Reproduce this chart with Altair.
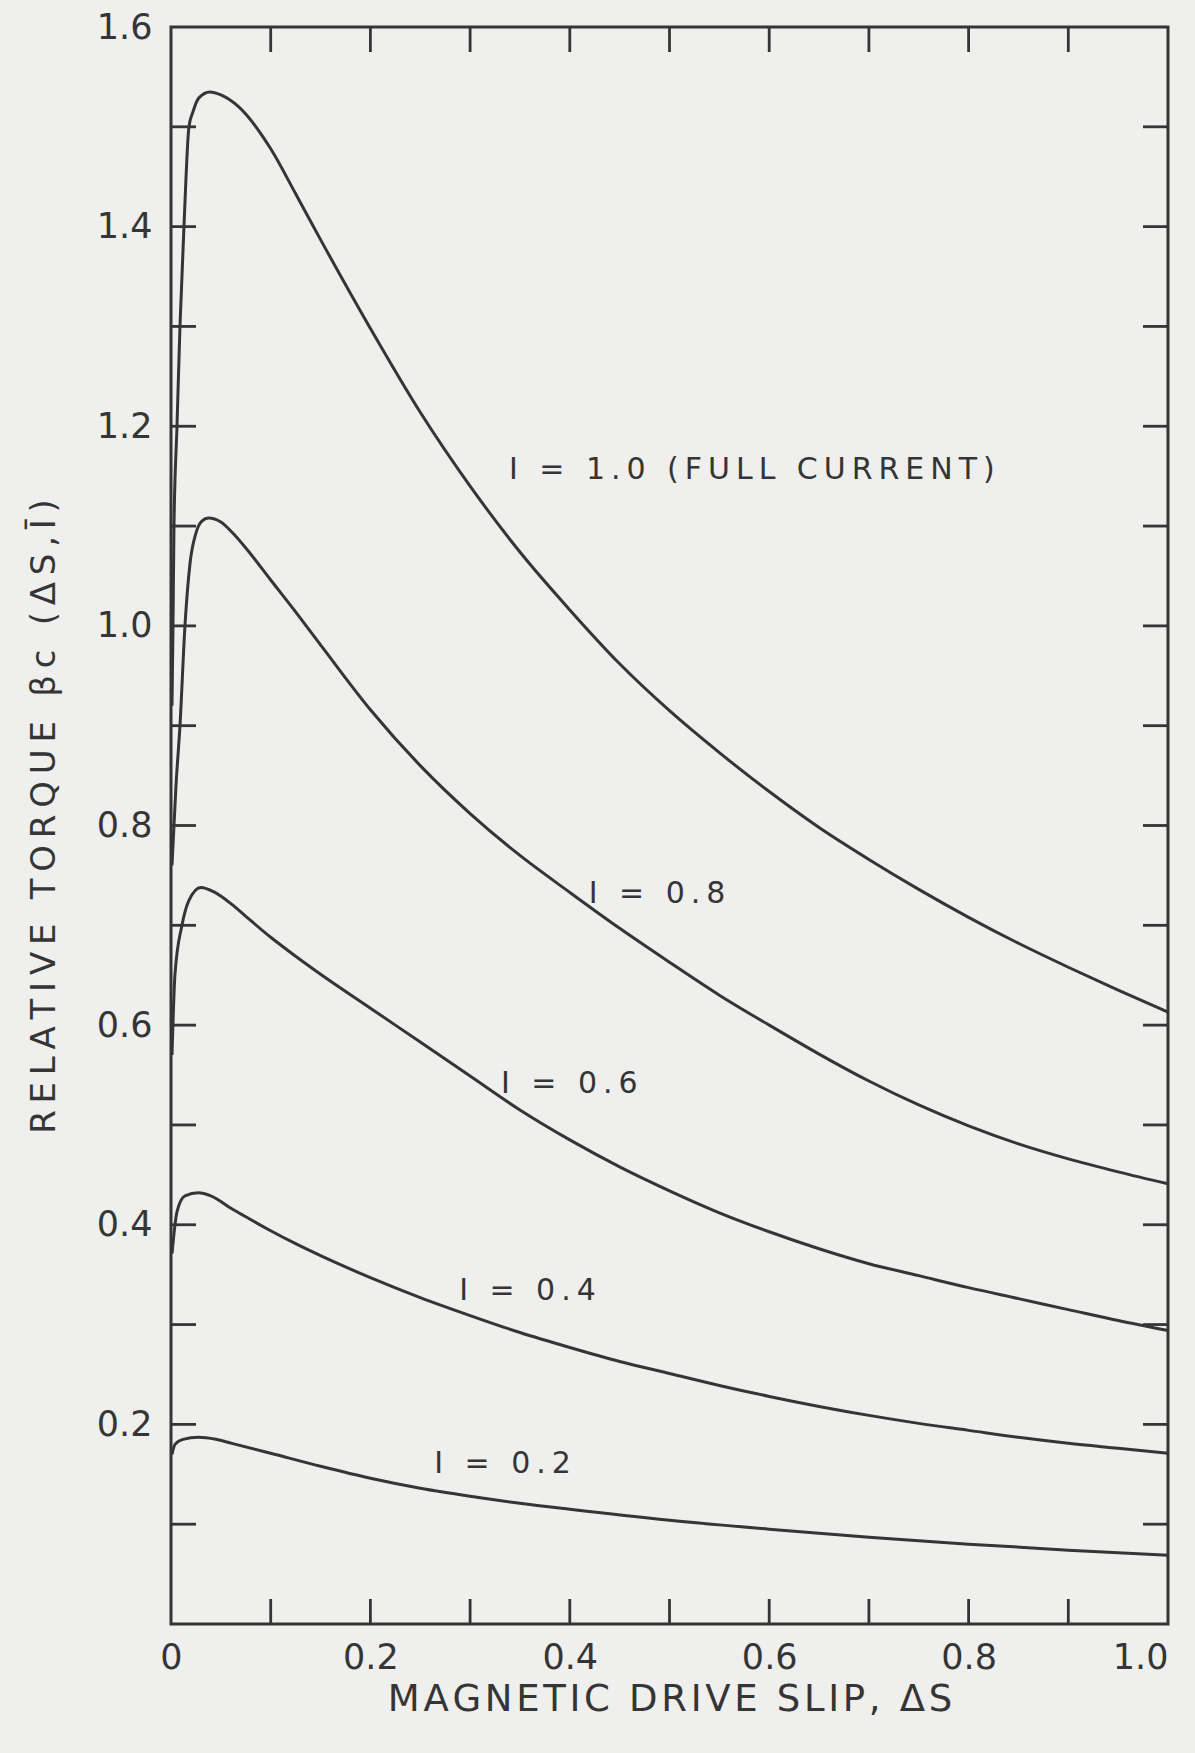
import altair as alt
import pandas as pd

# Relative torque curves of a magnetic (eddy-current) drive vs. slip, one per field current
slip_10 = [0.001, 0.002, 0.003, 0.006, 0.009, 0.013, 0.018, 0.022, 0.028, 0.039, 0.05, 0.068,
           0.1, 0.125, 0.15, 0.2, 0.25, 0.3, 0.35, 0.4, 0.45, 0.5, 0.55, 0.6, 0.65, 0.7,
           0.75, 0.8, 0.85, 0.9, 0.95, 1.0]
torque_10 = [0.92, 1.0, 1.1, 1.2, 1.3, 1.4, 1.5, 1.515, 1.529, 1.535, 1.532, 1.52,
             1.478, 1.433, 1.387, 1.298, 1.214, 1.14, 1.074, 1.016, 0.962, 0.915, 0.873, 0.834,
             0.798, 0.766, 0.736, 0.708, 0.682, 0.658, 0.635, 0.613]

slip_08 = [0.001, 0.005, 0.009, 0.014, 0.019, 0.025, 0.031, 0.0375, 0.05, 0.061, 0.075, 0.1,
           0.125, 0.15, 0.2, 0.25, 0.3, 0.35, 0.4, 0.45, 0.5, 0.55, 0.6, 0.65, 0.7, 0.75,
           0.8, 0.85, 0.9, 0.95, 1.0]
torque_08 = [0.76, 0.84, 0.9, 1.0, 1.062, 1.093, 1.105, 1.108, 1.104, 1.094, 1.078, 1.046,
             1.014, 0.981, 0.916, 0.860, 0.812, 0.770, 0.733, 0.697, 0.663, 0.630, 0.600, 0.571,
             0.544, 0.520, 0.499, 0.481, 0.466, 0.453, 0.441]

slip_06 = [0.001, 0.004, 0.011, 0.018, 0.03, 0.044, 0.061, 0.075, 0.1, 0.125, 0.15, 0.2,
           0.25, 0.3, 0.35, 0.4, 0.45, 0.5, 0.55, 0.6, 0.65, 0.7, 0.75, 0.8, 0.85, 0.9,
           0.95, 1.0]
torque_06 = [0.57, 0.651, 0.70, 0.725, 0.738, 0.733, 0.721, 0.709, 0.688, 0.669, 0.651, 0.617,
             0.583, 0.549, 0.515, 0.485, 0.458, 0.434, 0.412, 0.393, 0.376, 0.361, 0.349, 0.337,
             0.326, 0.315, 0.304, 0.294]

slip_04 = [0.001, 0.006, 0.014, 0.0275, 0.04, 0.061, 0.075, 0.1, 0.125, 0.15, 0.2, 0.25,
           0.3, 0.35, 0.4, 0.45, 0.5, 0.55, 0.6, 0.65, 0.7, 0.75, 0.8, 0.85, 0.9, 0.95, 1.0]
torque_04 = [0.371, 0.413, 0.429, 0.432, 0.429, 0.416, 0.408, 0.394, 0.381, 0.369, 0.347, 0.327,
             0.309, 0.292, 0.277, 0.263, 0.251, 0.239, 0.228, 0.218, 0.209, 0.201, 0.194, 0.187,
             0.181, 0.176, 0.171]

slip_02 = [0.001, 0.004, 0.012, 0.0275, 0.045, 0.061, 0.1, 0.15, 0.2, 0.25, 0.3, 0.35, 0.4,
           0.5, 0.6, 0.7, 0.8, 0.9, 1.0]
torque_02 = [0.17, 0.18, 0.185, 0.187, 0.185, 0.181, 0.171, 0.158, 0.146, 0.136, 0.128, 0.121,
             0.115, 0.104, 0.095, 0.087, 0.080, 0.074, 0.069]

currents = ["1.0", "0.8", "0.6", "0.4", "0.2"]
series = [(slip_10, torque_10), (slip_08, torque_08), (slip_06, torque_06),
          (slip_04, torque_04), (slip_02, torque_02)]

# Curve annotations: text, anchor slip, anchor torque
label_text = ["I = 1.0 (FULL CURRENT)", "I = 0.8", "I = 0.6", "I = 0.4", "I = 0.2"]
label_slip = [0.339, 0.419, 0.331, 0.289, 0.264]
label_torque = [1.156, 0.731, 0.541, 0.334, 0.160]

x_ticks = [0.1, 0.2, 0.3, 0.4, 0.5, 0.6, 0.7, 0.8, 0.9]
y_ticks = [0.1, 0.2, 0.3, 0.4, 0.5, 0.6, 0.7, 0.8, 0.9, 1.0, 1.1, 1.2, 1.3, 1.4, 1.5]
x_label_values = [0, 0.2, 0.4, 0.6, 0.8, 1.0]
y_label_values = [0.2, 0.4, 0.6, 0.8, 1.0, 1.2, 1.4, 1.6]

W, H = 997, 1597
INK = "#353535"
PAPER = "#efefed"
FONT = "DejaVu Sans"
HS = "\u200a"


def spaced(s, n=1):
    return (HS * n).join(s)


rows = []
for cur, (xs, ys) in zip(currents, series):
    for x, y in zip(xs, ys):
        rows.append({"current": cur, "slip": x, "torque": y})
curves_df = pd.DataFrame(rows)

labels_df = pd.DataFrame({"text": [spaced(t, 2) for t in label_text],
                          "slip": label_slip, "torque": label_torque})
xt_df = pd.DataFrame({"slip": x_ticks})
yt_df = pd.DataFrame({"torque": y_ticks})

x_scale = alt.Scale(domain=[0, 1.0], nice=False, zero=False)
y_scale = alt.Scale(domain=[0, 1.6], nice=False, zero=False)

x_axis = alt.Axis(values=x_label_values, grid=False, ticks=False, tickSize=0, domain=False,
                  labelExpr="datum.value == 0 ? '0' : format(datum.value, '.1f')",
                  labelFlush=False,
                  labelAlign={"condition": {"test": "datum.value == 1", "value": "right"},
                              "value": "center"},
                  labelFontSize=35, labelFont=FONT, labelColor=INK, labelPadding=16,
                  title=spaced("MAGNETIC DRIVE SLIP, ΔS"), titleFontSize=37, titleFont=FONT,
                  titleFontWeight="normal", titleColor=INK, titlePadding=6)
y_axis = alt.Axis(values=y_label_values, grid=False, ticks=False, tickSize=0, domain=False,
                  format=".1f", labelFlush=False,
                  labelFontSize=35, labelFont=FONT, labelColor=INK, labelPadding=19,
                  title=spaced("RELATIVE TORQUE βc (ΔS,Ī)", 2), titleFontSize=34,
                  titleFont=FONT, titleFontWeight="normal", titleColor=INK,
                  titlePadding=35, titleY=789)

curves = alt.Chart(curves_df).mark_line(
    color=INK, strokeWidth=3, interpolate="monotone"
).encode(
    x=alt.X("slip:Q", scale=x_scale, axis=x_axis),
    y=alt.Y("torque:Q", scale=y_scale, axis=y_axis),
    detail="current:N",
    order="slip:Q",
)

labels = alt.Chart(labels_df).mark_text(
    align="left", baseline="middle", fontSize=30, font=FONT, color=INK
).encode(
    x=alt.X("slip:Q", scale=x_scale),
    y=alt.Y("torque:Q", scale=y_scale),
    text="text:N",
)

tick_style = dict(color=INK, strokeWidth=2.8)
bottom_ticks = alt.Chart(xt_df).mark_rule(**tick_style).encode(
    x=alt.X("slip:Q", scale=x_scale), y=alt.value(H), y2=alt.value(H - 25))
top_ticks = alt.Chart(xt_df).mark_rule(**tick_style).encode(
    x=alt.X("slip:Q", scale=x_scale), y=alt.value(0), y2=alt.value(25))
left_ticks = alt.Chart(yt_df).mark_rule(**tick_style).encode(
    y=alt.Y("torque:Q", scale=y_scale), x=alt.value(0), x2=alt.value(25))
right_ticks = alt.Chart(yt_df).mark_rule(**tick_style).encode(
    y=alt.Y("torque:Q", scale=y_scale), x=alt.value(W), x2=alt.value(W - 25))

chart = alt.layer(
    curves, labels, bottom_ticks, top_ticks, left_ticks, right_ticks
).properties(
    width=W, height=H,
    autosize=alt.AutoSizeParams(type="none"),
    padding={"left": 171, "top": 27, "right": 27, "bottom": 129},
    background=PAPER,
).configure_view(
    stroke=INK, strokeWidth=3, fill=PAPER
)

chart.save("out.html", embed_options={"renderer": "svg", "actions": False})
